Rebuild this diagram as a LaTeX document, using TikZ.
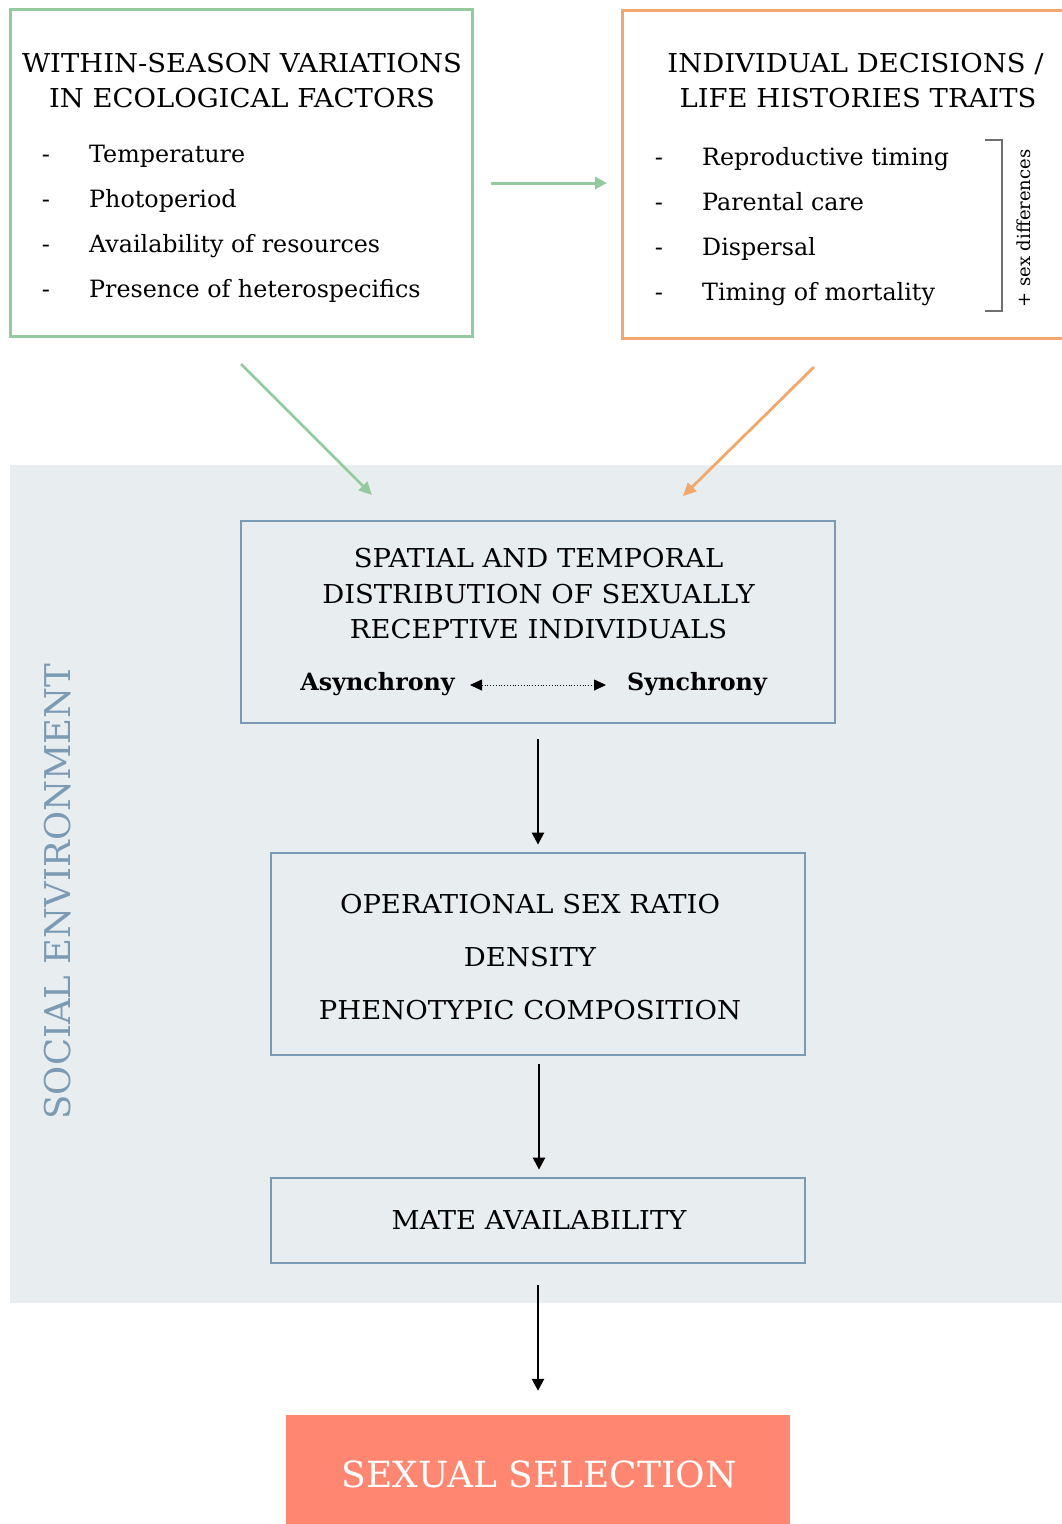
\documentclass[tikz,border=0pt]{standalone}
\usepackage{fontspec}
\setmainfont{DejaVu Serif}
\newfontfamily\hdrfont{DejaVu Serif}[FakeStretch=1.055]
\usetikzlibrary{arrows.meta}
\definecolor{grn}{HTML}{93CB9F}
\definecolor{org}{HTML}{F2A86B}
\definecolor{blu}{HTML}{7A9BB3}
\definecolor{bgc}{HTML}{E8EDF0}
\definecolor{slm}{HTML}{FF8670}
\definecolor{brk}{HTML}{707070}
\begin{document}
\begin{tikzpicture}[x=1pt,y=-1pt,
  hdr/.style={font=\hdrfont\fontsize{26}{30}\selectfont, inner sep=0pt, anchor=base},
  itm/.style={font=\fontsize{23.8}{28}\selectfont, inner sep=0pt, anchor=base west},
  dsh/.style={font=\fontsize{24}{28}\selectfont, inner sep=0pt, anchor=base},
  bx/.style={draw=blu, line width=2.8pt, inner sep=0pt},
  arr/.style={line width=2.5pt, -{Triangle[length=12pt,width=12pt]}},
  carr/.style={line width=2.8pt, -{Triangle[length=13pt,width=12pt]}}]
\useasboundingbox (0,0) rectangle (1062,1524);
\fill[bgc] (10,465) rectangle (1062,1303);
% top boxes
\node[draw=grn, line width=3pt, minimum width=462pt, minimum height=327pt, inner sep=0pt] (eco) at (241,172.5) {};
\node[draw=org, line width=3pt, minimum width=460pt, minimum height=328pt, inner sep=0pt] (ind) at (852,174) {};
\node[hdr] (e1) at (242,72) {WITHIN-SEASON VARIATIONS};
\node[hdr] (e2) at (242,107) {IN ECOLOGICAL FACTORS};
\foreach \t [count=\i] in {Temperature,Photoperiod,Availability of resources,Presence of heterospecifics}{
  \node[dsh] (ed\i) at (46,162+45.3*\i-45.3) {-};
  \node[itm] (ei\i) at (89,162+45.3*\i-45.3) {\t};
}
\node[hdr] (i1) at (855.5,72) {INDIVIDUAL DECISIONS /};
\node[hdr] (i2) at (858,107) {LIFE HISTORIES TRAITS};
\foreach \t [count=\i] in {Reproductive timing,Parental care,Dispersal,Timing of mortality}{
  \node[dsh] (id\i) at (659,165+45*\i-45) {-};
  \node[itm] (ii\i) at (702,165+45*\i-45) {\t};
}
\draw[brk, line width=1.2pt] (985,140) -- (1002,140) -- (1002,311) -- (985,311);
\node[font=\fontsize{18}{20}\selectfont, inner sep=0pt, rotate=90, anchor=base] (sd) at (1030,228.5) {+ sex differences};
% connectors between top boxes
\coordinate (ga1) at (491,183);
\coordinate (ga2) at (607,183);
\draw[grn, line width=3pt, -{Triangle[length=12pt,width=12pt]}] (ga1) -- (ga2);
\coordinate (gd1) at (241,364);
\coordinate (gd2) at (372,495);
\draw[grn, carr] (gd1) -- (gd2);
\coordinate (od1) at (814,367);
\coordinate (od2) at (683,496);
\draw[org, carr] (od1) -- (od2);
% social environment
\node[font=\fontsize{35.5}{40}\selectfont, text=blu, inner sep=0pt, rotate=90, anchor=base] (soc) at (70,891.5) {SOCIAL ENVIRONMENT};
% box 1
\node[bx, minimum width=594pt, minimum height=202pt] (b1) at (538,622) {};
\node[hdr] (b1a) at (538.5,567) {SPATIAL AND TEMPORAL};
\node[hdr] (b1b) at (538.5,603) {DISTRIBUTION OF SEXUALLY};
\node[hdr] (b1c) at (538.5,638) {RECEPTIVE INDIVIDUALS};
\node[font=\fontsize{23.8}{26}\selectfont\bfseries, inner sep=0pt, anchor=base east] (asy) at (455,690) {Asynchrony};
\node[font=\fontsize{23.8}{26}\selectfont\bfseries, inner sep=0pt, anchor=base west] (syn) at (627,690) {Synchrony};
\coordinate (da1) at (470,685);
\coordinate (da2) at (606,685);
\draw[line width=0.8pt, dotted, {Triangle[length=12pt,width=11pt]}-{Triangle[length=12pt,width=11pt]}] (da1) -- (da2);
% box 2
\node[bx, minimum width=534pt, minimum height=202pt] (b2) at (538,954) {};
\node[hdr] (b2a) at (530,913) {OPERATIONAL SEX RATIO};
\node[hdr] (b2b) at (530,966) {DENSITY};
\node[hdr] (b2c) at (530,1019) {PHENOTYPIC COMPOSITION};
% box 3
\node[bx, minimum width=534pt, minimum height=85pt] (b3) at (538,1220.5) {};
\node[hdr] (b3a) at (539,1229) {MATE AVAILABILITY};
% final
\node[fill=slm, minimum width=504pt, minimum height=112pt, inner sep=0pt] (ss) at (538,1471) {};
\node[font=\fontsize{36}{40}\selectfont, text=white, inner sep=0pt, anchor=base] (sst) at (539,1487) {SEXUAL SELECTION};
% vertical arrows
\draw[arr] ([yshift=-15pt]b1.south) -- ([yshift=7pt]b2.north);
\draw[arr] ([xshift=1pt,yshift=-8pt]b2.south) -- ([xshift=1pt,yshift=7pt]b3.north);
\draw[arr] ([yshift=-21pt]b3.south) -- ([yshift=24pt]ss.north);
\end{tikzpicture}
\end{document}
